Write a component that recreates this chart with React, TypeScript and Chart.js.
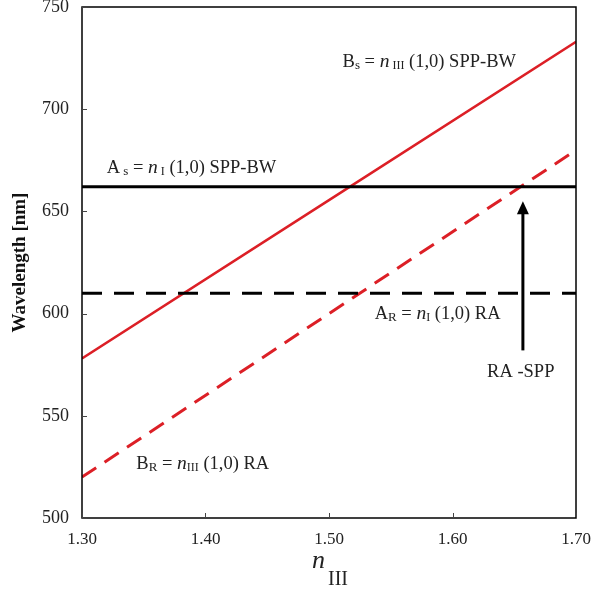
import React, { useEffect, useRef } from "react";
import { Chart, registerables } from "chart.js";

Chart.register(...registerables);

// ---- data ----
const nIII = [1.3, 1.5, 1.7];
const bsSppBw = [578, 655.5, 733]; // B_s = n_III (1,0) SPP-BW
const brRa = [520, 600, 680]; // B_R = n_III (1,0) RA
const asSppBw = [662, 662, 662]; // A_s = n_I (1,0) SPP-BW
const arRa = [610, 610, 610]; // A_R = n_I (1,0) RA

const xTicks = [1.3, 1.4, 1.5, 1.6, 1.7];
const yTicks = [500, 550, 600, 650, 700, 750];

// arrow (RA-SPP): x, from y, to y
const arrowX = [1.657];
const arrowY = [582, 655];

// annotation anchors (data coords): x, baseline y
const labelBsAt = [1.511, 720.6];
const labelAsAt = [1.32, 668.7];
const labelArAt = [1.537, 597.3];
const labelRaSppAt = [1.628, 568.9];
const labelBrAt = [1.344, 523.9];

const SERIF = '"Liberation Serif", "Times New Roman", serif';
const RED = "#dc1f26";

type Seg = { t: string; size: number; italic?: boolean; dy?: number };

function drawRich(ctx: CanvasRenderingContext2D, x: number, y: number, segs: Seg[]) {
  let cx = x;
  ctx.save();
  ctx.fillStyle = "#222";
  ctx.textBaseline = "alphabetic";
  ctx.textAlign = "left";
  for (const s of segs) {
    ctx.font = `${s.italic ? "italic " : ""}${s.size}px ${SERIF}`;
    ctx.fillText(s.t, cx, y + (s.dy || 0));
    cx += ctx.measureText(s.t).width;
  }
  ctx.restore();
}

const M = 18.5; // main annotation size
const S = 13; // subscript size
const N = 19.5; // italic n size

const decorPlugin = {
  id: "decor",
  afterDraw(chart: any) {
    const ctx: CanvasRenderingContext2D = chart.ctx;
    const { left, right, top, bottom } = chart.chartArea;
    const xs = chart.scales.x;
    const ys = chart.scales.y;

    // frame
    ctx.save();
    ctx.strokeStyle = "#000";
    ctx.lineWidth = 1.5;
    ctx.strokeRect(left, top, right - left, bottom - top);
    // inner ticks
    ctx.lineWidth = 1;
    ctx.strokeStyle = "#444";
    for (const v of yTicks) {
      const py = Math.round(ys.getPixelForValue(v)) + 0.5;
      ctx.beginPath();
      ctx.moveTo(left, py);
      ctx.lineTo(left + 5, py);
      ctx.stroke();
    }
    for (const v of xTicks) {
      const px = Math.round(xs.getPixelForValue(v)) + 0.5;
      ctx.beginPath();
      ctx.moveTo(px, bottom);
      ctx.lineTo(px, bottom - 5);
      ctx.stroke();
    }
    ctx.restore();

    // arrow
    const ax = xs.getPixelForValue(arrowX[0]);
    const ay0 = ys.getPixelForValue(arrowY[0]);
    const ay1 = ys.getPixelForValue(arrowY[1]);
    ctx.save();
    ctx.strokeStyle = "#000";
    ctx.fillStyle = "#000";
    ctx.lineWidth = 3;
    ctx.beginPath();
    ctx.moveTo(ax, ay0);
    ctx.lineTo(ax, ay1 + 10);
    ctx.stroke();
    ctx.beginPath();
    ctx.moveTo(ax, ay1);
    ctx.lineTo(ax - 6, ay1 + 13);
    ctx.lineTo(ax + 6, ay1 + 13);
    ctx.closePath();
    ctx.fill();
    ctx.restore();

    const P = (a: number[]) => [xs.getPixelForValue(a[0]), ys.getPixelForValue(a[1])];

    let [px, py] = P(labelBsAt);
    drawRich(ctx, px, py, [
      { t: "B", size: M },
      { t: "s", size: S, dy: 2 },
      { t: " = ", size: M },
      { t: "n", size: N, italic: true },
      { t: " III", size: S - 1, dy: 2 },
      { t: " (1,0) SPP-BW", size: M },
    ]);
    [px, py] = P(labelAsAt);
    drawRich(ctx, px, py, [
      { t: "A", size: M },
      { t: " s", size: S, dy: 2 },
      { t: " = ", size: M },
      { t: "n", size: N, italic: true },
      { t: " I", size: S - 1, dy: 2 },
      { t: " (1,0) SPP-BW", size: M },
    ]);
    [px, py] = P(labelArAt);
    drawRich(ctx, px, py, [
      { t: "A", size: M },
      { t: "R", size: S, dy: 2 },
      { t: " = ", size: M },
      { t: "n", size: N, italic: true },
      { t: "I", size: S - 1, dy: 2 },
      { t: " (1,0) RA", size: M },
    ]);
    [px, py] = P(labelBrAt);
    drawRich(ctx, px, py, [
      { t: "B", size: M },
      { t: "R", size: S, dy: 2 },
      { t: " = ", size: M },
      { t: "n", size: N, italic: true },
      { t: "III", size: S - 1, dy: 2 },
      { t: " (1,0) RA", size: M },
    ]);
    [px, py] = P(labelRaSppAt);
    drawRich(ctx, px, py, [
      { t: "RA", size: M },
      { t: " -", size: M },
      { t: "SPP", size: M },
    ]);

    // x axis title: n_III
    const cxm = (left + right) / 2;
    drawRich(ctx, cxm - 17, bottom + 50, [{ t: "n", size: 26, italic: true }]);
    drawRich(ctx, cxm - 1, bottom + 67, [{ t: "III", size: 20 }]);

    // y axis title
    ctx.save();
    ctx.translate(20, (top + bottom) / 2);
    ctx.rotate(-Math.PI / 2);
    ctx.font = `bold 19px ${SERIF}`;
    ctx.fillStyle = "#111";
    ctx.textAlign = "center";
    ctx.textBaseline = "middle";
    ctx.fillText("Wavelength [nm]", 0, 0);
    ctx.restore();
  },
};

export default function App() {
  const ref = useRef<HTMLCanvasElement | null>(null);
  useEffect(() => {
    document.body.style.margin = "0";
    const toPts = (ys: number[]) => nIII.map((x, i) => ({ x, y: ys[i] }));
    const chart = new Chart(ref.current!, {
      type: "line",
      data: {
        datasets: [
          { data: toPts(asSppBw), borderColor: "#000", borderWidth: 3, pointRadius: 0 },
          { data: toPts(arRa), borderColor: "#000", borderWidth: 3, borderDash: [20, 12], pointRadius: 0 },
          { data: toPts(bsSppBw), borderColor: RED, borderWidth: 2.5, pointRadius: 0 },
          { data: toPts(brRa), borderColor: RED, borderWidth: 3, borderDash: [17, 10], pointRadius: 0 },
        ],
      },
      options: {
        responsive: false,
        animation: false,
        layout: { padding: { left: 0, top: 7, right: 17, bottom: 0 } },
        plugins: { legend: { display: false }, tooltip: { enabled: false } },
        scales: {
          x: {
            type: "linear",
            min: 1.3,
            max: 1.7,
            border: { display: false },
            grid: { display: false, drawTicks: false },
            afterBuildTicks: (s: any) => {
              s.ticks = xTicks.map((v) => ({ value: v }));
            },
            afterFit: (s: any) => {
              s.height = 76;
              s.paddingLeft = 0;
              s.paddingRight = 0;
            },
            ticks: {
              padding: 11,
              color: "#222",
              font: { family: SERIF, size: 17 },
              callback: (v: any) => Number(v).toFixed(2),
              maxRotation: 0,
            },
          },
          y: {
            min: 500,
            max: 750,
            border: { display: false },
            grid: { display: false, drawTicks: false },
            afterBuildTicks: (s: any) => {
              s.ticks = yTicks.map((v) => ({ value: v }));
            },
            afterFit: (s: any) => {
              s.width = 82;
              s.paddingTop = 0;
              s.paddingBottom = 0;
            },
            ticks: {
              padding: 13,
              color: "#222",
              font: { family: SERIF, size: 18 },
            },
          },
        },
      },
      plugins: [decorPlugin],
    } as any);
    return () => chart.destroy();
  }, []);
  return <canvas ref={ref} width={593} height={594} style={{ display: "block" }} />;
}
